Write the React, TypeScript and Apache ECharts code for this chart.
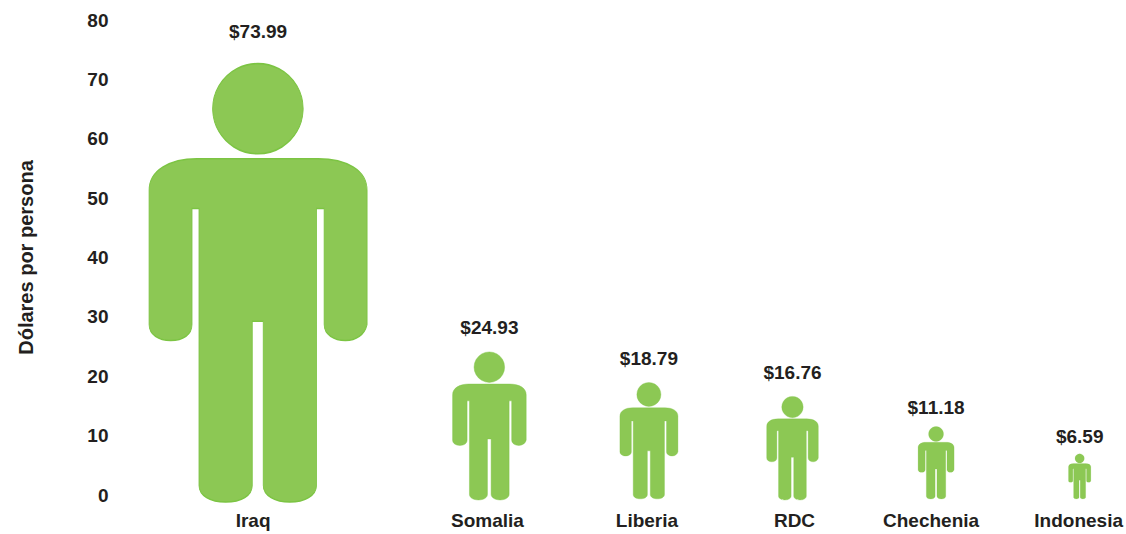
import React, { useEffect, useRef } from "react";
import * as echarts from "echarts";

const categories = ["Iraq", "Somalia", "Liberia", "RDC", "Chechenia", "Indonesia"];
const values = [73.99, 24.93, 18.79, 16.76, 11.18, 6.59];
const yTicks = [0, 10, 20, 30, 40, 50, 60, 70, 80];
const axisTitle = "Dólares por persona";

// layout only: which slot of the category axis holds each figure
const slots = [36, 94, 134, 170, 206, 242];
const figureExtra = [-1, 0, 5, 4, 6, 6];
const figureDrop = [8, 6, 5, 6, 5, 5];
const labelDistance = [15, 10, 13, 13, 8, 7];
const labelNudge = [10, 4, 4, -4, 10, 2];

const PERSON =
  "path://M384 38A136 136 0 1 1 383.9 38ZM200 325L565 325C650 325 712 360 712 420L712 825C705 855 680 873 647 873C612 873 583 855 583 825L583 475L560 475L560 1310C560 1340 525 1360 480 1360C435 1360 400 1340 400 1310L400 815L367 815L367 1310C367 1340 335 1360 287 1360C240 1360 207 1340 207 1310L207 475L186 475L186 825C186 855 160 873 122 873C85 873 57 855 57 825L57 420C57 360 120 325 200 325Z";
const ASPECT = 657 / 1322;
const FONT = '"Liberation Sans", Arial, sans-serif';
const INK = "#231f20";
const GRID_TOP = 20;
const GRID_BOTTOM = 39;
const PLOT_H = 534 - GRID_TOP - GRID_BOTTOM;
const SLOT_COUNT = 244;

export default function App() {
  const ref = useRef<HTMLDivElement>(null);
  useEffect(() => {
    document.body.style.margin = "0";
    const chart = echarts.init(ref.current!, undefined, { renderer: "svg" });
    const axisData: any[] = Array.from({ length: SLOT_COUNT }, () => "");
    const seriesData: any[] = Array.from({ length: SLOT_COUNT }, () => null);
    categories.forEach((name, i) => {
      const n = labelNudge[i];
      axisData[slots[i]] = { value: name, textStyle: { padding: [0, Math.max(n, 0), 0, Math.max(-n, 0)] } };
      const h = (values[i] / yTicks[yTicks.length - 1]) * PLOT_H + figureExtra[i];
      seriesData[slots[i]] = {
        value: values[i],
        symbolSize: [h * ASPECT, h],
        symbolOffset: [0, figureDrop[i]],
        label: { distance: labelDistance[i] },
      };
    });
    chart.setOption({
      animation: false,
      backgroundColor: "#ffffff",
      grid: { left: 112.5, right: 36, top: GRID_TOP, bottom: GRID_BOTTOM },
      xAxis: {
        type: "category",
        data: axisData,
        axisLine: { show: false },
        axisTick: { show: false },
        splitLine: { show: false },
        axisLabel: {
          interval: 0,
          margin: 16,
          hideOverlap: false,
          fontFamily: FONT,
          fontWeight: "bold",
          fontSize: 19,
          color: INK,
        },
      },
      yAxis: {
        type: "value",
        min: 0,
        max: yTicks[yTicks.length - 1],
        interval: 10,
        name: axisTitle,
        nameLocation: "middle",
        nameGap: 77,
        nameRotate: 90,
        nameTextStyle: { fontFamily: FONT, fontWeight: "bold", fontSize: 20, color: INK },
        axisLine: { show: false },
        axisTick: { show: false },
        splitLine: { show: false },
        axisLabel: { margin: 4, fontFamily: FONT, fontWeight: "bold", fontSize: 19, color: INK },
      },
      series: [
        {
          type: "pictorialBar",
          symbol: PERSON,
          symbolPosition: "start",
          data: seriesData,
          itemStyle: { color: "#8cc854", borderColor: "#7cc443", borderWidth: 1.5 },
          label: {
            show: true,
            position: "top",
            formatter: (p: any) => "$" + Number(p.value).toFixed(2),
            fontFamily: FONT,
            fontWeight: "bold",
            fontSize: 19,
            color: INK,
          },
        },
      ],
    });
    return () => chart.dispose();
  }, []);
  return <div ref={ref} style={{ width: 1126, height: 534 }} />;
}
